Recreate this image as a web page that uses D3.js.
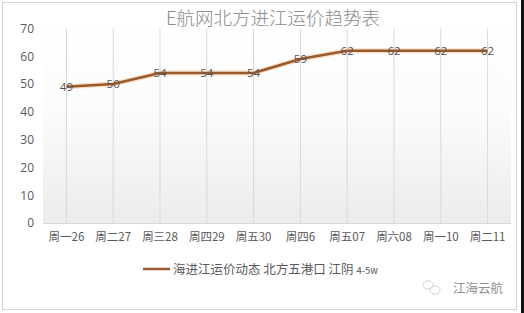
<!DOCTYPE html>
<html lang="zh">
<head>
<meta charset="UTF-8">
<title>E航网北方进江运价趋势表</title>
<script src="https://cdnjs.cloudflare.com/ajax/libs/d3/7.8.5/d3.min.js"></script>
<style>
    body { margin: 0; background: #fff; overflow: hidden; }
    svg text { font-family: "Noto Sans CJK SC", "Microsoft YaHei", sans-serif; }
</style>
</head>
<body>
<div id="chart"></div>
<script>
const categories = ["周一26", "周二27", "周三28", "周四29", "周五30", "周四6", "周五07", "周六08", "周一10", "周二11"];
const prices = [49, 50, 54, 54, 54, 59, 62, 62, 62, 62];
const yTicks = [0, 10, 20, 30, 40, 50, 60, 70];
const title = "E航网北方进江运价趋势表";
const seriesName = "海进江运价动态 北方五港口 江阴 ";
const seriesUnit = "4-5w";
const watermark = "江海云航";

const W = 524, H = 313;
const plot = { left: 43, right: 511, top: 28.5, bottom: 223 };

const svg = d3.select("#chart").append("svg")
    .attr("width", W).attr("height", H);

const defs = svg.append("defs");
const grad = defs.append("linearGradient")
    .attr("id", "bg").attr("x1", 0).attr("y1", 0).attr("x2", 0).attr("y2", 1);
grad.append("stop").attr("offset", "0%").attr("stop-color", "#ffffff");
grad.append("stop").attr("offset", "45%").attr("stop-color", "#fbfbfb");
grad.append("stop").attr("offset", "100%").attr("stop-color", "#ececec");

// outer frame
svg.append("rect").attr("x", 0).attr("y", 0).attr("width", W).attr("height", H).attr("fill", "#fff");
svg.append("rect").attr("x", 2.5).attr("y", 2.5).attr("width", 514).attr("height", 307)
    .attr("fill", "#fff").attr("stroke", "#d4d4d4");
svg.append("rect").attr("x", 521).attr("y", 0).attr("width", 3).attr("height", H).attr("fill", "#111");

// plot background
svg.append("rect")
    .attr("x", plot.left).attr("y", plot.top)
    .attr("width", plot.right - plot.left).attr("height", plot.bottom - plot.top)
    .attr("fill", "url(#bg)");

const x = d3.scaleBand().domain(categories).range([plot.left, plot.right]);
const y = d3.scaleLinear().domain([0, 70]).range([plot.bottom, plot.top]);
const cx = d => x(d) + x.bandwidth() / 2;

// vertical gridlines
svg.append("g").selectAll("line").data(categories).join("line")
    .attr("x1", d => cx(d)).attr("x2", d => cx(d))
    .attr("y1", plot.top).attr("y2", plot.bottom)
    .attr("stroke", "#d9d9d9").attr("stroke-width", 1);

// baseline
svg.append("line")
    .attr("x1", plot.left).attr("x2", plot.right)
    .attr("y1", plot.bottom + 0.5).attr("y2", plot.bottom + 0.5)
    .attr("stroke", "#d9d9d9");

// y axis labels
const yAxis = d3.axisLeft(y).tickValues(yTicks).tickSize(0).tickPadding(0);
const gy = svg.append("g").attr("transform", "translate(34,0)").call(yAxis);
gy.select(".domain").remove();
gy.selectAll("text").attr("fill", "#595959").style("font-size", "12px")
    .style("font-family", "'Open Sans', 'DejaVu Sans', sans-serif");

// x axis labels
const xAxis = d3.axisBottom(x).tickSize(0).tickPadding(0);
const gx = svg.append("g").attr("transform", `translate(0,${plot.bottom + 10})`).call(xAxis);
gx.select(".domain").remove();
gx.selectAll("text").attr("fill", "#595959").style("font-size", "11.5px");

// line with soft glow
const line = d3.line()
    .x((d, i) => cx(categories[i]))
    .y(d => y(d));
svg.append("path").datum(prices).attr("d", line)
    .attr("fill", "none").attr("stroke", "#f5d2b0").attr("stroke-width", 5)
    .attr("stroke-linejoin", "round").attr("opacity", 0.7);
svg.append("path").datum(prices).attr("d", line)
    .attr("fill", "none").attr("stroke", "#9b5a2c").attr("stroke-width", 2.5)
    .attr("stroke-linejoin", "round");

// data labels
svg.append("g").selectAll("text").data(prices).join("text")
    .attr("x", (d, i) => cx(categories[i]))
    .attr("y", d => y(d) + 4)
    .attr("text-anchor", "middle")
    .attr("fill", "#555555")
    .style("font-size", "11.5px")
    .style("font-family", "'Open Sans', 'DejaVu Sans', sans-serif")
    .text(d => d);

// title
svg.append("text")
    .attr("x", 273).attr("y", 25)
    .attr("text-anchor", "middle")
    .attr("fill", "#8c8c8c")
    .style("font-size", "18.5px")
    .style("font-weight", 300)
    .text(title);

// legend
svg.append("line")
    .attr("x1", 143).attr("x2", 170).attr("y1", 269).attr("y2", 269)
    .attr("stroke", "#9b5a2c").attr("stroke-width", 2.5);
const lt = svg.append("text")
    .attr("x", 173).attr("y", 273.5)
    .attr("fill", "#595959")
    .style("font-size", "12.5px");
lt.append("tspan").text(seriesName);
lt.append("tspan").style("font-size", "9.5px").text(seriesUnit);

// watermark
const wm = svg.append("g").attr("fill", "none").attr("stroke", "#d2d2d2").attr("stroke-width", 1);
wm.append("ellipse").attr("cx", 428).attr("cy", 285).attr("rx", 5).attr("ry", 4.2);
wm.append("ellipse").attr("cx", 435).attr("cy", 290).attr("rx", 5).attr("ry", 4.2);
svg.append("text")
    .attr("x", 453).attr("y", 292.5)
    .attr("fill", "#8f8f8f")
    .style("font-size", "12.5px")
    .text(watermark);
</script>
</body>
</html>
